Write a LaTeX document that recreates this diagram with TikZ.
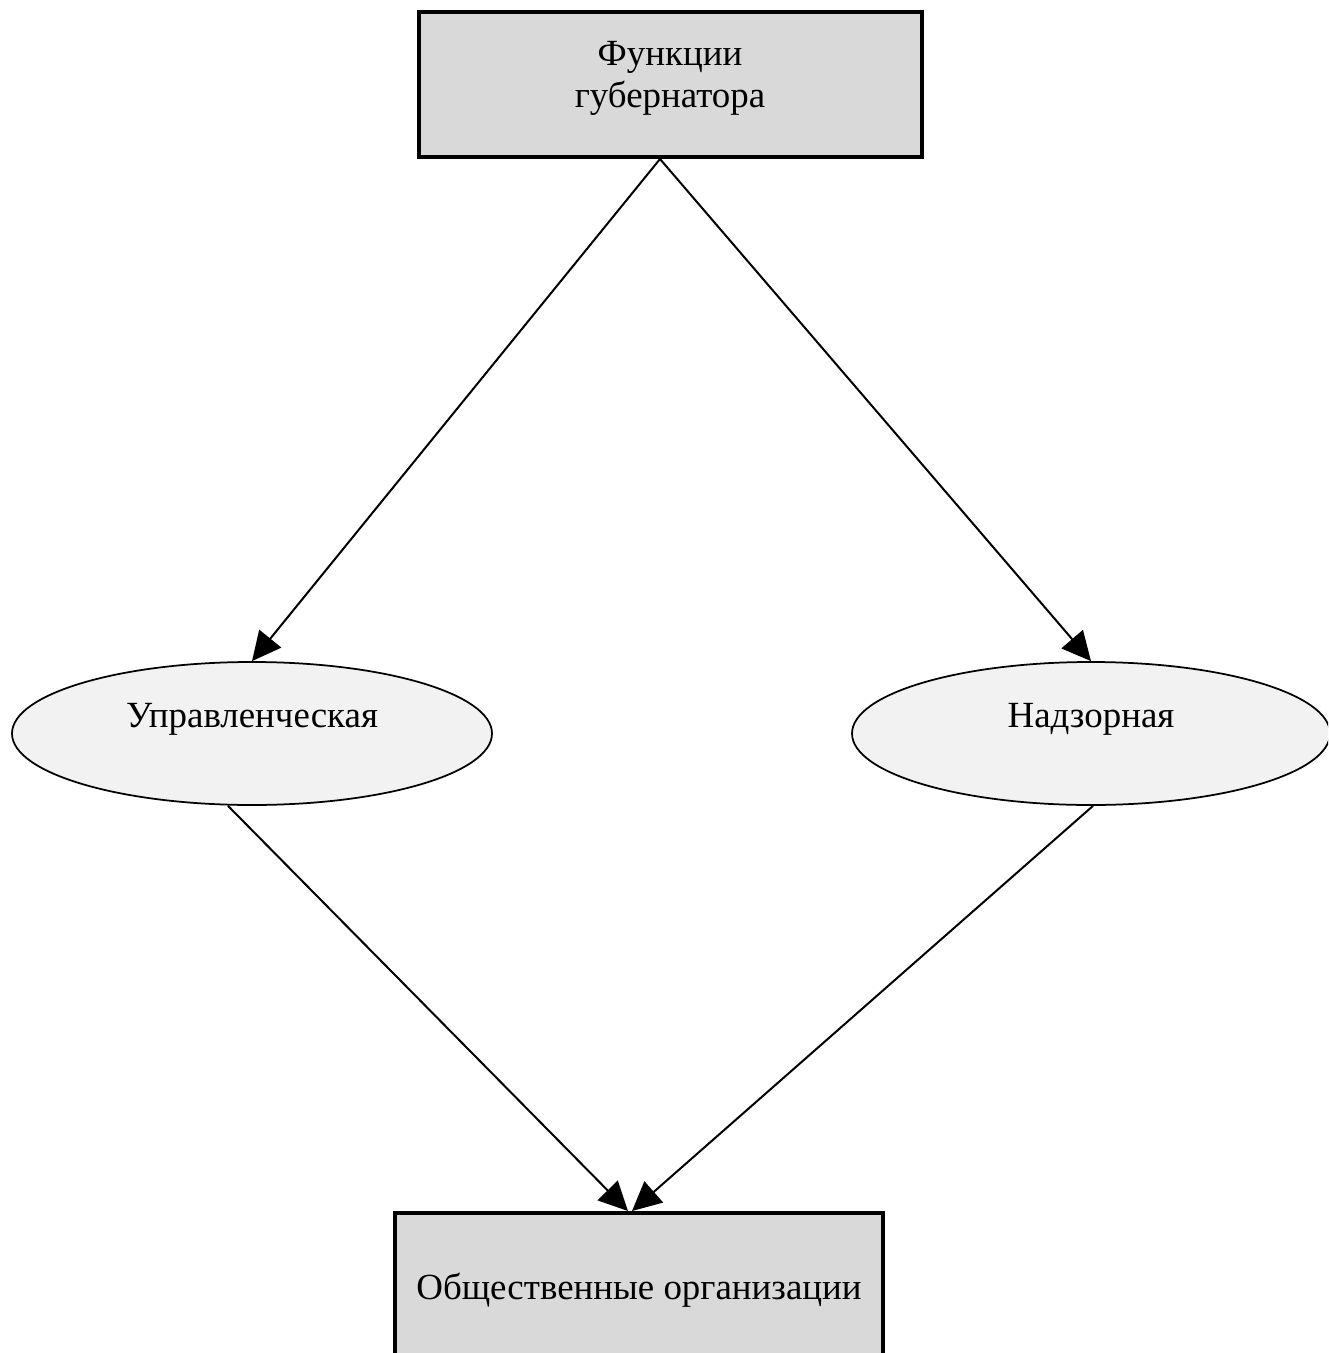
\documentclass[tikz,border=0pt]{standalone}
\usepackage{fontspec}
\setmainfont{Liberation Serif}
\usepackage{xcolor}
\usepackage{tikz}
\usetikzlibrary{calc, positioning, arrows.meta, shapes.geometric}
\definecolor{boxgray}{RGB}{217,217,217}
\definecolor{ovalgray}{RGB}{242,242,242}
\tikzset{
    funcbox/.style={rectangle, draw=black, line width=0.08cm, fill=boxgray, align=center, font=\fontsize{21}{24}\selectfont},
    kind/.style={ellipse, draw=black, line width=0.035cm, fill=ovalgray, inner sep=0pt, minimum width=9.6cm, minimum height=2.86cm, text height=0.6cm, text depth=0.86cm, font=\fontsize{21}{24}\selectfont},
    arrow/.style={-{Triangle[length=0.58cm, width=0.56cm]}, line width=0.04cm}
}

\begin{document}
\begin{tikzpicture}
    \useasboundingbox (0,0) rectangle (26.56,-27.06);
    \clip (0,0) rectangle (26.56,-27.06);

    % Governor
    \node[funcbox, minimum width=10.06cm, minimum height=2.9cm, text height=1.8cm, text depth=0.86cm] (gov) at (13.40,-1.69) {Функции\\губернатора};

    % Two kinds
    \node[kind] (upr) at (5.04,-14.67) {Управленческая};
    \node[kind, minimum width=9.56cm] (nadz) at (21.82,-14.67) {Надзорная};

    % Organisations
    \node[funcbox, minimum width=9.76cm, minimum height=3.08cm] (org) at (12.78,-25.80) {Общественные организации};

    \draw[arrow] ([xshift=-0.2cm]gov.south) -- (upr.north);
    \draw[arrow] ([xshift=-0.2cm]gov.south) -- (nadz.north);
    \draw[arrow] ([xshift=-0.48cm]upr.south) -- ([xshift=-0.22cm]org.north);
    \draw[arrow] ([xshift=0.04cm]nadz.south) -- ([xshift=-0.14cm]org.north);
\end{tikzpicture}
\end{document}
